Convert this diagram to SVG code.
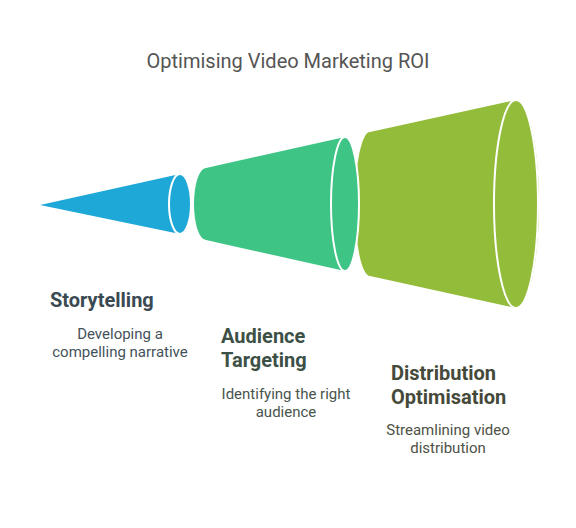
<svg xmlns="http://www.w3.org/2000/svg" width="576" height="528" viewBox="0 0 576 528">
<style>
.t{font-family:Roboto,"Liberation Sans",sans-serif}
.title{font-size:20px;fill:#555555;text-anchor:middle}
.h{font-size:20px;font-weight:bold}
.d{font-size:15px;text-anchor:middle}
.cap{stroke:#ffffff;stroke-width:2}
</style>
<rect width="576" height="528" fill="#ffffff"/>
<text class="t title" x="288" y="68">Optimising Video Marketing ROI</text>
<g id="olive">
<path d="M370,132 L516,100 A23,104 0 0 1 516,308 L370,276 A15,72 0 0 1 370,132 Z" fill="#93BC3A"/>
<ellipse class="cap" cx="516" cy="204" rx="22" ry="104" fill="#93BC3A"/>
</g>
<g id="green">
<path d="M206,168 L345,137 A14,67 0 0 1 345,271 L206,240 A12,36 0 0 1 206,168 Z" fill="#3EC485"/>
<ellipse class="cap" cx="345" cy="204" rx="14" ry="67" fill="#3EC485"/>
</g>
<g id="blue">
<path d="M40,205 L180,174 A11,30 0 0 1 180,234 Z" fill="#1EA8D8"/>
<ellipse class="cap" cx="180" cy="204" rx="11" ry="30" fill="#1EA8D8"/>
</g>
<g id="storytelling">
<text class="t h" x="50" y="307" fill="#3A4A52">Storytelling</text>
<text class="t d" x="120" y="339" fill="#44525A">Developing a</text>
<text class="t d" x="120" y="357" fill="#44525A">compelling narrative</text>
</g>
<g id="audience">
<text class="t h" x="221" y="343" fill="#3D5046">Audience</text>
<text class="t h" x="221" y="367" fill="#3D5046">Targeting</text>
<text class="t d" x="286" y="399" fill="#47554D">Identifying the right</text>
<text class="t d" x="286" y="417" fill="#47554D">audience</text>
</g>
<g id="distribution">
<text class="t h" x="391" y="380" fill="#45493A">Distribution</text>
<text class="t h" x="391" y="404" fill="#45493A">Optimisation</text>
<text class="t d" x="448" y="435" fill="#4E5145">Streamlining video</text>
<text class="t d" x="448" y="453" fill="#4E5145">distribution</text>
</g>
<g id="connectors"></g>
</svg>
